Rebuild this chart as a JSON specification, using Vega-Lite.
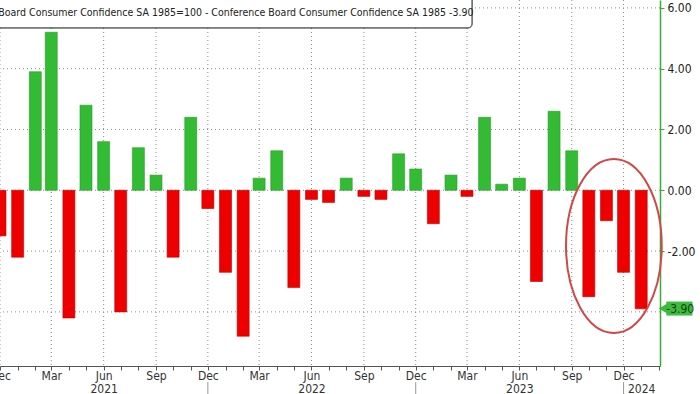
{
  "$schema": "https://vega.github.io/schema/vega-lite/v6.json",
  "width": 660,
  "height": 366,
  "autosize": {"type": "none"},
  "padding": {"left": 0, "top": 0, "right": 40, "bottom": 28},
  "background": "white",
  "config": {
    "view": {"stroke": null},
    "font": "Liberation Sans Narrow, DejaVu Sans Condensed, sans-serif",
    "locale": {"number": {"decimal": ".", "thousands": ",", "grouping": [3], "currency": ["$", ""], "minus": "-"}}
  },
  "datasets": {
    "bars": [
      {"date": "2020-12-01", "value": -1.5},
      {"date": "2021-01-01", "value": -2.2},
      {"date": "2021-02-01", "value": 3.9},
      {"date": "2021-03-01", "value": 5.2},
      {"date": "2021-04-01", "value": -4.2},
      {"date": "2021-05-01", "value": 2.8},
      {"date": "2021-06-01", "value": 1.6},
      {"date": "2021-07-01", "value": -4.0},
      {"date": "2021-08-01", "value": 1.4},
      {"date": "2021-09-01", "value": 0.5},
      {"date": "2021-10-01", "value": -2.2},
      {"date": "2021-11-01", "value": 2.4},
      {"date": "2021-12-01", "value": -0.6},
      {"date": "2022-01-01", "value": -2.7},
      {"date": "2022-02-01", "value": -4.8},
      {"date": "2022-03-01", "value": 0.4},
      {"date": "2022-04-01", "value": 1.3},
      {"date": "2022-05-01", "value": -3.2},
      {"date": "2022-06-01", "value": -0.3},
      {"date": "2022-07-01", "value": -0.4},
      {"date": "2022-08-01", "value": 0.4},
      {"date": "2022-09-01", "value": -0.2},
      {"date": "2022-10-01", "value": -0.3},
      {"date": "2022-11-01", "value": 1.2},
      {"date": "2022-12-01", "value": 0.7},
      {"date": "2023-01-01", "value": -1.1},
      {"date": "2023-02-01", "value": 0.5},
      {"date": "2023-03-01", "value": -0.2},
      {"date": "2023-04-01", "value": 2.4},
      {"date": "2023-05-01", "value": 0.2},
      {"date": "2023-06-01", "value": 0.4},
      {"date": "2023-07-01", "value": -3.0},
      {"date": "2023-08-01", "value": 2.6},
      {"date": "2023-09-01", "value": 1.3},
      {"date": "2023-10-01", "value": -3.5},
      {"date": "2023-11-01", "value": -1.0},
      {"date": "2023-12-01", "value": -2.7},
      {"date": "2024-01-01", "value": -3.9}
    ]
  },
  "layer": [
    {
      "data": {"values": [
        {"date": "2020-12-01"}, {"date": "2021-03-01"}, {"date": "2021-06-01"}, {"date": "2021-09-01"},
        {"date": "2021-12-01"}, {"date": "2022-03-01"}, {"date": "2022-06-01"}, {"date": "2022-09-01"},
        {"date": "2022-12-01"}, {"date": "2023-03-01"}, {"date": "2023-06-01"}, {"date": "2023-09-01"},
        {"date": "2023-12-01"}
      ]},
      "mark": {"type": "rule", "color": "#8a8a8a", "strokeWidth": 1, "strokeDash": [1, 3]},
      "encoding": {
        "x": {
          "field": "date",
          "type": "temporal",
          "scale": {"type": "utc", "domain": ["2020-12-01", "2024-02-03"], "padding": 0},
          "axis": {
            "title": null,
            "grid": false,
            "tickCount": {"interval": "month", "step": 1},
            "labelExpr": "utcmonth(datum.value) == 5 ? ['Jun', '' + utcyear(datum.value)] : (utcmonth(datum.value) == 0 && utcyear(datum.value) == 2024) ? ['', '2024'] : (utcmonth(datum.value) % 3 == 2 ? utcFormat(datum.value, '%b') : '')",
            "labelOverlap": false,
            "labelBound": false,
            "labelFlush": false,
            "labelAlign": "center",
            "labelBaseline": "top",
            "labelLineHeight": 13,
            "labelPadding": 0,
            "labelFontSize": 12,
            "labelColor": "#333333",
            "tickSize": 4,
            "tickColor": "#555555",
            "domainColor": "#555555"
          }
        }
      }
    },
    {
      "data": {"values": [{"value": -4}, {"value": -2}, {"value": 0}, {"value": 2}, {"value": 4}, {"value": 6}]},
      "mark": {"type": "rule", "color": "#8a8a8a", "strokeWidth": 1, "strokeDash": [1, 3]},
      "encoding": {
        "y": {
          "field": "value",
          "type": "quantitative",
          "scale": {"domain": [-5.78, 6.26], "nice": false, "zero": false},
          "axis": {
            "title": null,
            "grid": false,
            "orient": "right",
            "values": [-2, 0, 2, 4, 6],
            "format": ".2f",
            "labelFontSize": 12,
            "labelColor": "#222222",
            "labelPadding": 3,
            "tickSize": 4,
            "tickColor": "#3aaa3a",
            "domainColor": "#3aaa3a",
            "domainWidth": 1.5
          }
        }
      }
    },
    {
      "data": {"name": "bars"},
      "mark": {"type": "bar", "width": 12, "strokeWidth": 0.6},
      "encoding": {
        "x": {"field": "date", "type": "temporal"},
        "y": {"field": "value", "type": "quantitative"},
        "color": {"condition": {"test": "datum.value > 0", "value": "#33bb33"}, "value": "#ee0000"},
        "stroke": {"condition": {"test": "datum.value > 0", "value": "#2a9a2a"}, "value": "#c00000"}
      }
    },
    {
      "data": {"values": [
        {"date": "2021-12-01", "y1": -6.31, "y2": -6.9},
        {"date": "2022-12-01", "y1": -6.31, "y2": -6.9},
        {"date": "2023-12-01", "y1": -6.31, "y2": -6.9}
      ]},
      "mark": {"type": "rule", "clip": false, "color": "#999999", "strokeWidth": 1},
      "encoding": {
        "x": {"field": "date", "type": "temporal"},
        "y": {"field": "y1", "type": "quantitative"},
        "y2": {"field": "y2"}
      }
    },
    {
      "data": {"values": [{"date": "2023-11-14", "value": -1.83}]},
      "mark": {
        "type": "point",
        "shape": "M -0.55 0 A 0.55 1 0 1 0 0.55 0 A 0.55 1 0 1 0 -0.55 0 Z",
        "size": 30276,
        "filled": false,
        "stroke": "#d04848",
        "strokeWidth": 2,
        "opacity": 1,
        "clip": false
      },
      "encoding": {
        "x": {"field": "date", "type": "temporal"},
        "y": {"field": "value", "type": "quantitative"}
      }
    },
    {
      "data": {"values": [{"date": "2020-11-20", "date2": "2023-03-10", "top": 6.5, "bottom": 5.34}]},
      "mark": {"type": "rect", "fill": "white", "stroke": "#111111", "strokeWidth": 1, "cornerRadius": 4},
      "encoding": {
        "x": {"field": "date", "type": "temporal"},
        "x2": {"field": "date2"},
        "y": {"field": "top", "type": "quantitative"},
        "y2": {"field": "bottom"}
      }
    },
    {
      "data": {"values": [{"date": "2020-11-28", "value": 5.82, "label": "Board Consumer Confidence SA 1985=100 - Conference Board Consumer Confidence SA 1985  -3.90"}]},
      "mark": {"type": "text", "align": "left", "baseline": "middle", "fontSize": 10.5, "color": "#222222"},
      "encoding": {
        "x": {"field": "date", "type": "temporal"},
        "y": {"field": "value", "type": "quantitative"},
        "text": {"field": "label"}
      }
    },
    {
      "data": {"values": [{"date": "2024-02-14", "date2": "2024-03-31", "top": -3.66, "bottom": -4.12}]},
      "mark": {"type": "rect", "fill": "#3cbc3c", "clip": false},
      "encoding": {
        "x": {"field": "date", "type": "temporal"},
        "x2": {"field": "date2"},
        "y": {"field": "top", "type": "quantitative"},
        "y2": {"field": "bottom"}
      }
    },
    {
      "data": {"values": [{"date": "2024-02-09", "value": -3.89}]},
      "mark": {"type": "point", "shape": "triangle-left", "size": 120, "filled": true, "fill": "#3cbc3c", "opacity": 1, "clip": false},
      "encoding": {
        "x": {"field": "date", "type": "temporal"},
        "y": {"field": "value", "type": "quantitative"}
      }
    },
    {
      "data": {"values": [{"date": "2024-02-14", "value": -3.89, "label": "-3.90"}]},
      "mark": {"type": "text", "align": "left", "baseline": "middle", "fontSize": 12, "color": "#1a3a1a", "clip": false},
      "encoding": {
        "x": {"field": "date", "type": "temporal"},
        "y": {"field": "value", "type": "quantitative"},
        "text": {"field": "label"}
      }
    }
  ]
}
